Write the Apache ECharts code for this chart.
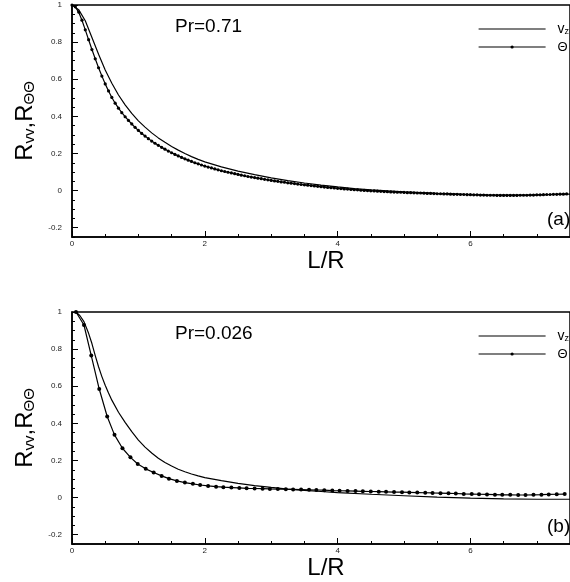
<!DOCTYPE html>
<html><head><meta charset="utf-8">
<script src="https://cdn.jsdelivr.net/npm/echarts@6/dist/echarts.min.js"></script>
<style>html,body{margin:0;padding:0;background:#fff}#c{width:570px;height:582px}</style>
</head><body><div id="c"></div>
<script>
// ---------------- DATA ----------------
const xTickLabels = [0, 2, 4, 6];
const yTickLabels = [-0.2, 0, 0.2, 0.4, 0.6, 0.8, 1];
const panelPr = ['Pr=0.71', 'Pr=0.026'];
const panelTag = ['(a)', '(b)'];

// (a) Pr=0.71, v_z
const aVzL = [0,0.1,0.2,0.3,0.4,0.5,0.6,0.7,0.8,0.9,1.0,1.1,1.2,1.3,1.4,1.5,1.6,1.7,1.8,1.9,2.0,
  2.25,2.5,2.75,3.0,3.25,3.5,3.75,4.0,4.25,4.5,4.75,5.0,5.25,5.5,5.75,6.0,6.25,6.5,6.75,7.0,7.25,7.5];
const aVz = [1.0,0.975,0.915,0.825,0.735,0.65,0.578,0.515,0.462,0.416,0.376,0.342,0.311,0.284,0.26,0.238,0.218,0.2,0.183,0.168,0.155,
  0.128,0.105,0.086,0.069,0.054,0.041,0.03,0.02,0.011,0.004,-0.002,-0.007,-0.011,-0.015,-0.018,-0.021,-0.023,-0.024,-0.024,-0.023,-0.021,-0.019];

// (a) Pr=0.71, Theta (dense markers)
const aThL = [0,0.05,0.1,0.15,0.2,0.25,0.3,0.35,0.4,0.45,0.5,0.55,0.6,0.65,0.7,0.75,0.8,0.85,0.9,0.95,
  1.0,1.05,1.1,1.15,1.2,1.25,1.3,1.35,1.4,1.45,1.5,1.55,1.6,1.65,1.7,1.75,1.8,1.85,1.9,1.95,
  2.0,2.05,2.1,2.15,2.2,2.25,2.3,2.35,2.4,2.45,2.5,2.55,2.6,2.65,2.7,2.75,2.8,2.85,2.9,2.95,
  3.0,3.05,3.1,3.15,3.2,3.25,3.3,3.35,3.4,3.45,3.5,3.55,3.6,3.65,3.7,3.75,3.8,3.85,3.9,3.95,
  4.0,4.05,4.1,4.15,4.2,4.25,4.3,4.35,4.4,4.45,4.5,4.55,4.6,4.65,4.7,4.75,4.8,4.85,4.9,4.95,
  5.0,5.05,5.1,5.15,5.2,5.25,5.3,5.35,5.4,5.45,5.5,5.55,5.6,5.65,5.7,5.75,5.8,5.85,5.9,5.95,
  6.0,6.05,6.1,6.15,6.2,6.25,6.3,6.35,6.4,6.45,6.5,6.55,6.6,6.65,6.7,6.75,6.8,6.85,6.9,6.95,
  7.0,7.05,7.1,7.15,7.2,7.25,7.3,7.35,7.4,7.45];
const aTh = [1.0,0.99,0.962,0.918,0.866,0.813,0.76,0.71,0.662,0.617,0.575,0.537,0.502,0.471,0.444,0.42,0.398,0.378,0.359,0.341,
  0.324,0.308,0.294,0.28,0.267,0.255,0.244,0.233,0.223,0.213,0.204,0.195,0.187,0.179,0.171,0.164,0.157,0.15,0.144,0.138,
  0.132,0.127,0.122,0.117,0.112,0.107,0.103,0.099,0.095,0.091,0.087,0.083,0.08,0.076,0.073,0.07,0.067,0.064,0.061,0.058,
  0.055,0.052,0.05,0.047,0.045,0.042,0.04,0.038,0.035,0.033,0.031,0.029,0.027,0.025,0.023,0.021,0.019,0.017,0.016,0.014,
  0.012,0.011,0.009,0.008,0.006,0.005,0.004,0.002,0.001,0.0,-0.001,-0.002,-0.003,-0.004,-0.005,-0.006,-0.007,-0.008,-0.009,-0.009,
  -0.01,-0.011,-0.011,-0.012,-0.013,-0.013,-0.014,-0.015,-0.015,-0.016,-0.017,-0.017,-0.018,-0.018,-0.019,-0.02,-0.02,-0.021,-0.021,-0.022,
  -0.022,-0.023,-0.023,-0.024,-0.024,-0.025,-0.025,-0.025,-0.026,-0.026,-0.026,-0.026,-0.026,-0.026,-0.026,-0.025,-0.025,-0.025,-0.024,-0.024,
  -0.023,-0.023,-0.022,-0.021,-0.021,-0.02,-0.02,-0.019,-0.019,-0.018];

// (b) Pr=0.026, v_z
const bVzL = [0.06,0.12,0.18,0.25,0.3,0.35,0.4,0.45,0.5,0.55,0.6,0.7,0.8,0.9,1.0,1.1,1.2,1.3,1.4,1.5,1.6,1.7,1.8,1.9,2.0,
  2.25,2.5,2.75,3.0,3.25,3.5,3.75,4.0,4.5,5.0,5.5,6.0,6.5,7.0,7.5];
const bVz = [1.0,0.98,0.948,0.885,0.83,0.765,0.705,0.652,0.605,0.563,0.525,0.46,0.405,0.355,0.31,0.272,0.24,0.212,0.189,0.17,0.153,0.139,0.127,0.117,0.108,
  0.091,0.077,0.065,0.055,0.046,0.039,0.033,0.027,0.018,0.01,0.003,-0.003,-0.007,-0.009,-0.009];

// (b) Pr=0.026, Theta (markers)
const bThL = [0.06,0.18,0.29,0.41,0.53,0.64,0.76,0.88,0.99,1.11,1.23,1.35,1.46,1.58,1.7,1.82,1.93,2.05,2.17,2.28,
  2.4,2.52,2.63,2.75,2.87,2.98,3.1,3.22,3.33,3.45,3.57,3.68,3.8,3.92,4.03,4.15,4.27,4.38,4.5,4.62,
  4.73,4.85,4.97,5.08,5.2,5.32,5.43,5.55,5.67,5.78,5.9,6.02,6.13,6.25,6.37,6.48,6.6,6.72,6.83,6.95,
  7.07,7.18,7.3,7.42];
const bTh = [1.0,0.93,0.765,0.585,0.437,0.338,0.266,0.217,0.181,0.155,0.135,0.117,0.102,0.09,0.081,0.074,0.068,0.063,0.059,0.056,
  0.054,0.052,0.05,0.049,0.048,0.047,0.046,0.045,0.044,0.043,0.042,0.041,0.04,0.038,0.037,0.036,0.035,0.034,0.033,0.032,
  0.031,0.03,0.029,0.028,0.027,0.026,0.025,0.024,0.023,0.022,0.02,0.019,0.018,0.017,0.016,0.015,0.015,0.014,0.014,0.015,
  0.016,0.017,0.018,0.019];

// ---------------- CHART ----------------
const FONT = 'Arial, "Liberation Sans", sans-serif';
const pairs = (xs, ys) => xs.map((x, i) => [x, ys[i]]);
const panelTop = [5, 312];
const PH = 232, PL = 72, PW = 508;

const grid = [], xAxis = [], yAxis = [], series = [], legend = [], graphic = [];
const dataSets = [[aVzL, aVz, aThL, aTh, 3.2], [bVzL, bVz, bThL, bTh, 4]];

panelTop.forEach((top, g) => {
  grid.push({left: PL, top: top, width: PW, height: PH, show: true, borderColor: '#000', borderWidth: 1.5, backgroundColor: 'transparent'});
  // major x
  xAxis.push({gridIndex: g, type: 'value', min: 0, max: 7.5, interval: 2, position: 'bottom',
    axisLine: {show: true, onZero: false, lineStyle: {color: '#000', width: 1.5}},
    axisTick: {show: true, inside: true, length: 6, lineStyle: {color: '#000', width: 1}},
    axisLabel: {show: true, margin: 3, fontSize: 8, color: '#222', fontFamily: FONT, showMaxLabel: false,
      formatter: v => xTickLabels.includes(v) ? String(v) : ''},
    splitLine: {show: false},
    name: 'L/R', nameLocation: 'middle', nameGap: 9,
    nameTextStyle: {fontSize: 24, color: '#000', fontFamily: FONT, verticalAlign: 'top', padding: [0, 0, 0, 10]}});
  // minor x
  xAxis.push({gridIndex: g, type: 'value', min: 0, max: 7.5, interval: 0.5, position: 'bottom',
    axisLine: {show: false, onZero: false}, axisTick: {show: true, inside: true, length: 3, lineStyle: {color: '#000', width: 1}},
    axisLabel: {show: false}, splitLine: {show: false}});
  // major y
  yAxis.push({gridIndex: g, type: 'value', min: -0.25, max: 1, position: 'left',
    axisLine: {show: true, onZero: false, lineStyle: {color: '#000', width: 1.5}},
    axisTick: {show: true, inside: true, length: 6, customValues: yTickLabels, lineStyle: {color: '#000', width: 1}},
    axisLabel: {show: true, margin: 10, fontSize: 8, color: '#222', fontFamily: FONT, customValues: yTickLabels,
      formatter: v => String(v)},
    splitLine: {show: false},
    name: '{r|R}{s|vv}{r|,R}{s|ΘΘ}', nameLocation: 'middle', nameRotate: 90, nameGap: 34,
    nameTextStyle: {color: '#000', fontFamily: FONT,
      rich: {r: {fontSize: 24, fontFamily: FONT, color: '#000', lineHeight: 26, verticalAlign: 'bottom'},
             s: {fontSize: 15, fontFamily: FONT, color: '#000', lineHeight: 14, verticalAlign: 'bottom'}}}});
  // minor y
  yAxis.push({gridIndex: g, type: 'value', min: -0.25, max: 1, interval: 0.05, position: 'left',
    axisLine: {show: false, onZero: false}, axisTick: {show: true, inside: true, length: 3, lineStyle: {color: '#000', width: 1}},
    axisLabel: {show: false}, splitLine: {show: false}});

  const [vzL, vz, thL, th, sym] = dataSets[g];
  series.push({name: 'vz', type: 'line', xAxisIndex: 2 * g, yAxisIndex: 2 * g, data: pairs(vzL, vz),
    symbol: 'none', lineStyle: {color: '#000', width: 1.2}, itemStyle: {color: '#000'}, clip: true, z: 3});
  series.push({name: 'Θ', type: 'line', xAxisIndex: 2 * g, yAxisIndex: 2 * g, data: pairs(thL, th),
    symbol: 'circle', symbolSize: sym, showAllSymbol: true, lineStyle: {color: '#000', width: 1.2},
    itemStyle: {color: '#000'}, clip: true, z: 4});

  legend.push({data: [{name: 'vz', itemStyle: {color: 'rgba(0,0,0,0)', borderWidth: 0}}, 'Θ'],
    orient: 'vertical', left: 478, top: top + 17, itemWidth: 67, itemHeight: 4,
    itemGap: 4, selectedMode: false, padding: 0, lineStyle: {width: 1.2},
    formatter: n => n === 'vz' ? '{v|v}{z|z}' : '{t|Θ}',
    textStyle: {color: '#000', fontFamily: FONT, lineHeight: 14,
      rich: {v: {fontSize: 14, fontFamily: FONT, color: '#000', padding: [0, 0, 0, 7], lineHeight: 14, verticalAlign: 'bottom'},
             z: {fontSize: 9, fontFamily: FONT, color: '#000', lineHeight: 8, verticalAlign: 'bottom'},
             t: {fontSize: 13, fontFamily: FONT, color: '#000', padding: [0, 0, 0, 7], lineHeight: 14}}}});

  graphic.push({type: 'text', left: 175, top: top + 12, style: {text: panelPr[g], fontSize: 19, fontFamily: FONT, fill: '#000'}});
  graphic.push({type: 'text', left: 547, top: top + 205, style: {text: panelTag[g], fontSize: 19, fontFamily: FONT, fill: '#000'}});
});

const chart = echarts.init(document.getElementById('c'), null, {renderer: 'canvas'});
chart.setOption({animation: false, backgroundColor: '#fff', grid, xAxis, yAxis, series, legend, graphic});
</script>
</body></html>
